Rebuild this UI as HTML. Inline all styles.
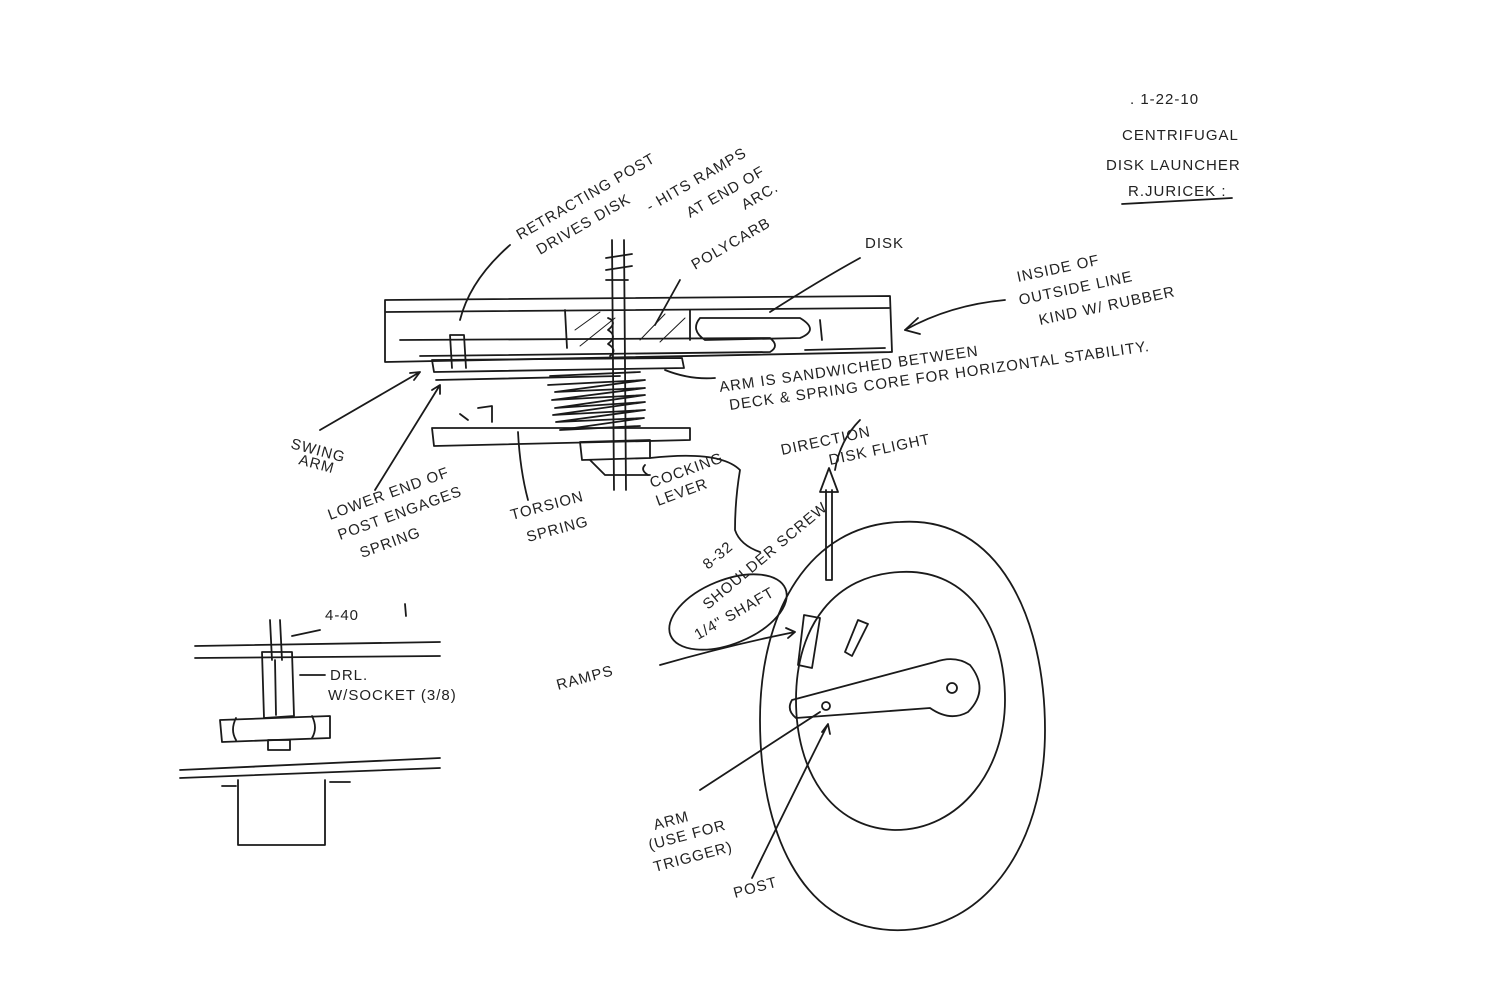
<!DOCTYPE html>
<html><head><meta charset="utf-8"><style>
html,body{margin:0;padding:0;background:#fff;}
svg{display:block}
text{font-family:"Liberation Sans",sans-serif;fill:#222;font-size:15px;letter-spacing:1px}
</style></head><body>
<svg width="1500" height="1000" viewBox="0 0 1500 1000" xmlns="http://www.w3.org/2000/svg">
<g fill="none" stroke="#1a1a1a" stroke-width="1.8" stroke-linecap="round" stroke-linejoin="round">
<path d="M385 300 L890 296 L892 352 L385 362 Z"/>
<path d="M386 312 L889 308"/>
<path d="M400 340 L770 338 Q780 346 770 352 L420 356"/>
<path d="M805 350 L885 348"/>
<path d="M700 318 Q690 330 705 340 L800 338 Q820 330 800 318 Z"/>
<path d="M565 310 L567 348 M690 310 L690 340"/>
<path d="M575 330 L600 312 M580 346 L615 318 M640 340 L665 314 M660 342 L685 318" stroke-width="1"/>
<path d="M820 320 L822 340"/>
<path d="M450 335 L452 368 M464 335 L466 368 M450 335 L464 335"/>
<path d="M432 360 L682 358 L684 368 L434 372 Z"/>
<path d="M436 380 L620 376"/>
<path d="M432 428 L690 428 L690 440 L434 446 Z"/>
<path d="M478 408 L492 406 L492 422 M460 414 L468 420"/>
<path d="M550 376 L640 372 M548 385 L645 380 L555 392 L645 388 L552 400 L645 395 L555 408 L645 402 L553 415 L645 410 L556 422 L644 418 L560 430 L640 426"/>
<path d="M608 318 Q618 322 608 330 Q618 336 608 344 Q618 350 610 356"/>
<path d="M612 240 L614 490 M624 240 L626 490"/>
<path d="M606 258 L632 254 M606 270 L632 266 M606 280 L628 280"/>
<path d="M580 442 L650 440 L650 458 L582 460 Z M590 460 L605 475 L650 475"/>
<path d="M460 320 Q470 280 510 245"/>
<path d="M655 325 L680 280"/>
<path d="M770 312 Q820 280 860 258"/>
<path d="M1005 300 Q950 305 905 330"/>
<path d="M905 330 L918 318 M905 330 L920 334"/>
<path d="M665 370 Q690 380 715 378"/>
<path d="M320 430 L420 372 L410 373 M420 372 L414 380"/>
<path d="M375 490 L440 385 L432 390 M440 385 L440 394"/>
<path d="M528 500 Q520 470 518 432"/>
<path d="M648 475 Q640 470 645 465"/>
<path d="M650 458 Q720 450 740 470 Q735 500 735 530 Q740 545 760 552"/>
<path d="M826 580 L826 490 M832 580 L832 490 M826 580 L832 580 M820 492 L829 468 L838 492 Z"/>
<path d="M835 470 Q840 440 860 420"/>
<ellipse cx="728" cy="612" rx="62" ry="32" transform="rotate(-22 728 612)"/>
<path d="M900 522 C1000 515 1045 620 1045 730 C1045 850 980 935 890 930 C800 925 760 830 760 720 C760 610 810 525 900 522 Z"/>
<path d="M900 572 C970 568 1005 630 1005 700 C1005 770 960 830 895 830 C830 828 796 770 796 700 C796 625 835 575 900 572 Z"/>
<path d="M792 700 L935 662 Q955 655 970 665 Q990 690 968 712 Q950 722 930 708 L796 718 Q786 710 792 700 Z"/>
<circle cx="952" cy="688" r="5"/>
<circle cx="826" cy="706" r="4"/>
<path d="M804 615 L820 618 L812 668 L798 665 Z M845 652 L858 620 L868 624 L852 656 Z"/>
<path d="M660 665 Q730 645 795 632 L786 628 M795 632 L788 638"/>
<path d="M700 790 L820 712 M752 878 Q790 800 828 724 L822 732 M828 724 L830 734"/>
<path d="M195 646 L440 642 M195 658 L440 656"/>
<path d="M270 620 L272 660 M280 620 L282 660"/>
<path d="M262 652 L292 652 L294 716 L264 718 Z M275 660 L276 715"/>
<path d="M220 720 L330 716 L330 738 L222 742 Z M236 718 Q230 730 236 740 M312 716 Q318 728 312 738"/>
<path d="M268 740 L290 740 L290 750 L268 750 Z"/>
<path d="M180 770 L440 758 M180 778 L440 768"/>
<path d="M222 786 L236 786 M238 780 L238 845 M325 780 L325 845 M238 845 L325 845 M330 782 L350 782"/>
<path d="M405 604 L406 616"/>
<path d="M292 636 L320 630 M300 675 L325 675"/>
<path d="M1122 204 L1232 198"/>
</g>
<g>
<text x="1130" y="104" font-size="22">. 1-22-10</text>
<text x="1122" y="140" font-size="18">CENTRIFUGAL</text>
<text x="1106" y="170" font-size="18">DISK LAUNCHER</text>
<text x="1128" y="196" font-size="18">R.JURICEK :</text>
<text x="520" y="240" transform="rotate(-30 520 240)">RETRACTING POST</text>
<text x="540" y="255" transform="rotate(-30 540 255)">DRIVES DISK</text>
<text x="650" y="212" transform="rotate(-30 650 212)">- HITS RAMPS</text>
<text x="690" y="218" transform="rotate(-30 690 218)">AT END OF</text>
<text x="745" y="210" transform="rotate(-30 745 210)">ARC.</text>
<text x="695" y="270" transform="rotate(-30 695 270)">POLYCARB</text>
<text x="865" y="248" font-size="20">DISK</text>
<text x="1018" y="282" transform="rotate(-12 1018 282)">INSIDE OF</text>
<text x="1020" y="305" transform="rotate(-12 1020 305)">OUTSIDE LINE</text>
<text x="1040" y="325" transform="rotate(-12 1040 325)">KIND W/ RUBBER</text>
<text x="720" y="392" transform="rotate(-8 720 392)">ARM IS SANDWICHED BETWEEN</text>
<text x="730" y="410" transform="rotate(-8 730 410)">DECK &amp; SPRING CORE FOR HORIZONTAL STABILITY.</text>
<text x="782" y="455" transform="rotate(-12 782 455)">DIRECTION</text>
<text x="830" y="465" transform="rotate(-12 830 465)">DISK FLIGHT</text>
<text x="290" y="448" transform="rotate(15 290 448)">SWING</text>
<text x="298" y="464" transform="rotate(15 298 464)">ARM</text>
<text x="330" y="520" transform="rotate(-20 330 520)">LOWER END OF</text>
<text x="340" y="540" transform="rotate(-20 340 540)">POST ENGAGES</text>
<text x="362" y="558" transform="rotate(-20 362 558)">SPRING</text>
<text x="512" y="520" transform="rotate(-15 512 520)">TORSION</text>
<text x="528" y="542" transform="rotate(-15 528 542)">SPRING</text>
<text x="652" y="488" transform="rotate(-20 652 488)">COCKING</text>
<text x="658" y="506" transform="rotate(-20 658 506)">LEVER</text>
<text x="708" y="570" transform="rotate(-40 708 570)">8-32</text>
<text x="708" y="610" transform="rotate(-40 708 610)">SHOULDER SCREW</text>
<text x="698" y="640" transform="rotate(-30 698 640)">1/4" SHAFT</text>
<text x="558" y="690" font-size="16" transform="rotate(-15 558 690)">RAMPS</text>
<text x="325" y="620">4-40</text>
<text x="330" y="680">DRL.</text>
<text x="328" y="700">W/SOCKET (3/8)</text>
<text x="655" y="830" transform="rotate(-15 655 830)">ARM</text>
<text x="650" y="850" transform="rotate(-15 650 850)">(USE FOR</text>
<text x="655" y="872" transform="rotate(-15 655 872)">TRIGGER)</text>
<text x="735" y="898" transform="rotate(-15 735 898)">POST</text>
</g>
</svg>
</body></html>
